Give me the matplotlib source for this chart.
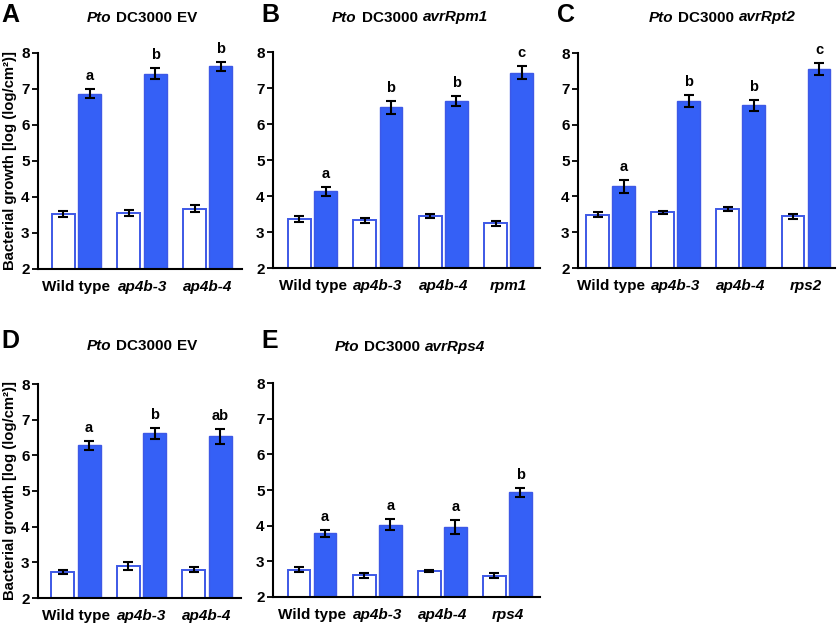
import matplotlib.pyplot as plt
import numpy as np
from matplotlib.offsetbox import TextArea, HPacker, AnnotationBbox

plt.rcParams['font.family'] = ['Liberation Sans', 'DejaVu Sans']
plt.rcParams['font.weight'] = 'bold'

# panel data: (genotypes, mock means, mock err, infected means, infected err, letters)
a_geno = ['Wild type', 'ap4b-3', 'ap4b-4']
a_mock = [3.52, 3.56, 3.67]
a_mock_err = [0.08, 0.08, 0.10]
a_inf = [6.87, 7.43, 7.63]
a_inf_err = [0.13, 0.15, 0.12]
a_letters = ['a', 'b', 'b']

b_geno = ['Wild type', 'ap4b-3', 'ap4b-4', 'rpm1']
b_mock = [3.37, 3.32, 3.45, 3.24]
b_mock_err = [0.08, 0.06, 0.05, 0.06]
b_inf = [4.13, 6.46, 6.64, 7.43]
b_inf_err = [0.12, 0.19, 0.14, 0.17]
b_letters = ['a', 'b', 'b', 'c']

c_geno = ['Wild type', 'ap4b-3', 'ap4b-4', 'rps2']
c_mock = [3.49, 3.55, 3.64, 3.44]
c_mock_err = [0.08, 0.05, 0.06, 0.06]
c_inf = [4.28, 6.67, 6.54, 7.55]
c_inf_err = [0.18, 0.17, 0.16, 0.17]
c_letters = ['a', 'b', 'b', 'c']

d_geno = ['Wild type', 'ap4b-3', 'ap4b-4']
d_mock = [2.72, 2.89, 2.79]
d_mock_err = [0.06, 0.11, 0.07]
d_inf = [6.28, 6.62, 6.53]
d_inf_err = [0.12, 0.15, 0.20]
d_letters = ['a', 'b', 'ab']

e_geno = ['Wild type', 'ap4b-3', 'ap4b-4', 'rps4']
e_mock = [2.77, 2.61, 2.73, 2.59]
e_mock_err = [0.07, 0.07, 0.03, 0.07]
e_inf = [3.79, 4.03, 3.97, 4.93]
e_inf_err = [0.10, 0.16, 0.20, 0.13]
e_letters = ['a', 'a', 'a', 'b']

blue = '#3560f6'
edge = '#3d58e6'

fig = plt.figure(figsize=(8.4, 6.25), dpi=100)


def panel(rect, xlim, geno, mock, mock_err, inf, inf_err, letters, ylabel=False):
    ax = fig.add_axes(rect)
    x = np.arange(len(geno))
    w = 0.35
    ax.bar(x - 0.2, mock, w, color='white', edgecolor=edge, linewidth=1.4, zorder=2)
    ax.bar(x + 0.2, inf, w, color=blue, edgecolor=edge, linewidth=1.0, zorder=2)
    ax.errorbar(x - 0.2, mock, yerr=mock_err, fmt='none', ecolor='black',
                elinewidth=1.5, capsize=3.5, capthick=1.5, zorder=3)
    ax.errorbar(x + 0.2, inf, yerr=inf_err, fmt='none', ecolor='black',
                elinewidth=1.5, capsize=3.5, capthick=1.5, zorder=3)
    for xi, m, e, l in zip(x, inf, inf_err, letters):
        ax.text(xi + 0.2, m + e + 0.36, l, ha='center', va='center',
                fontsize=10.5, fontweight='bold', clip_on=False)
    ax.set_ylim(2, 8)
    ax.set_xlim(*xlim)
    ax.set_yticks(range(2, 9))
    ax.set_xticks(x)
    ax.set_xticklabels(geno)
    for t in ax.get_xticklabels():
        if t.get_text() != 'Wild type':
            t.set_fontstyle('italic')
    ax.tick_params(axis='x', length=0, labelsize=11, pad=8)
    ax.tick_params(axis='y', length=4, width=1.3, labelsize=11, pad=2)
    ax.spines['top'].set_visible(False)
    ax.spines['right'].set_visible(False)
    ax.spines['left'].set_linewidth(1.5)
    ax.spines['bottom'].set_linewidth(1.5)
    if ylabel:
        ax.set_ylabel('Bacterial growth [log (log/cm²)]', fontsize=10.7, fontweight='bold', labelpad=3)
    return ax


def title(x, y, strain):
    parts = [TextArea('Pto', textprops=dict(fontsize=11, fontweight='bold', fontstyle='italic')),
             TextArea('DC3000', textprops=dict(fontsize=11, fontweight='bold'))]
    for s, it in strain:
        parts.append(TextArea(s, textprops=dict(fontsize=11, fontweight='bold',
                                                fontstyle='italic' if it else 'normal')))
    box = HPacker(children=parts, align='baseline', pad=0, sep=3.5)
    ab = AnnotationBbox(box, (x, y), xycoords='figure fraction', frameon=False,
                        box_alignment=(0.5, 0.5))
    fig.add_artist(ab)


panel([38 / 840, 1 - 269 / 625, 204 / 840, 216 / 625], (-0.585, 2.52),
      a_geno, a_mock, a_mock_err, a_inf, a_inf_err, a_letters, ylabel=True)
panel([273 / 840, 1 - 268 / 625, 267 / 840, 216 / 625], (-0.605, 3.48),
      b_geno, b_mock, b_mock_err, b_inf, b_inf_err, b_letters)
panel([578 / 840, 1 - 268 / 625, 257 / 840, 215 / 625], (-0.5, 3.445),
      c_geno, c_mock, c_mock_err, c_inf, c_inf_err, c_letters)
panel([38 / 840, 1 - 598 / 625, 203 / 840, 214 / 625], (-0.58, 2.52),
      d_geno, d_mock, d_mock_err, d_inf, d_inf_err, d_letters, ylabel=True)
panel([273 / 840, 1 - 597 / 625, 267 / 840, 214 / 625], (-0.6, 3.5),
      e_geno, e_mock, e_mock_err, e_inf, e_inf_err, e_letters)

title(142 / 840, 1 - 17.5 / 625, [('EV', False)])
title(410 / 840, 1 - 17.5 / 625, [('avrRpm1', True)])
title(722 / 840, 1 - 17.5 / 625, [('avrRpt2', True)])
title(142 / 840, 1 - 346 / 625, [('EV', False)])
title(410 / 840, 1 - 347 / 625, [('avrRps4', True)])

for lab, x, y in [('A', 1, 15), ('B', 261, 15), ('C', 557, 15), ('D', 1, 341), ('E', 261, 341)]:
    fig.text(x / 840, 1 - y / 625, lab, fontsize=18, fontweight='bold', va='center', ha='left')

fig.savefig('out.png', dpi=100)
